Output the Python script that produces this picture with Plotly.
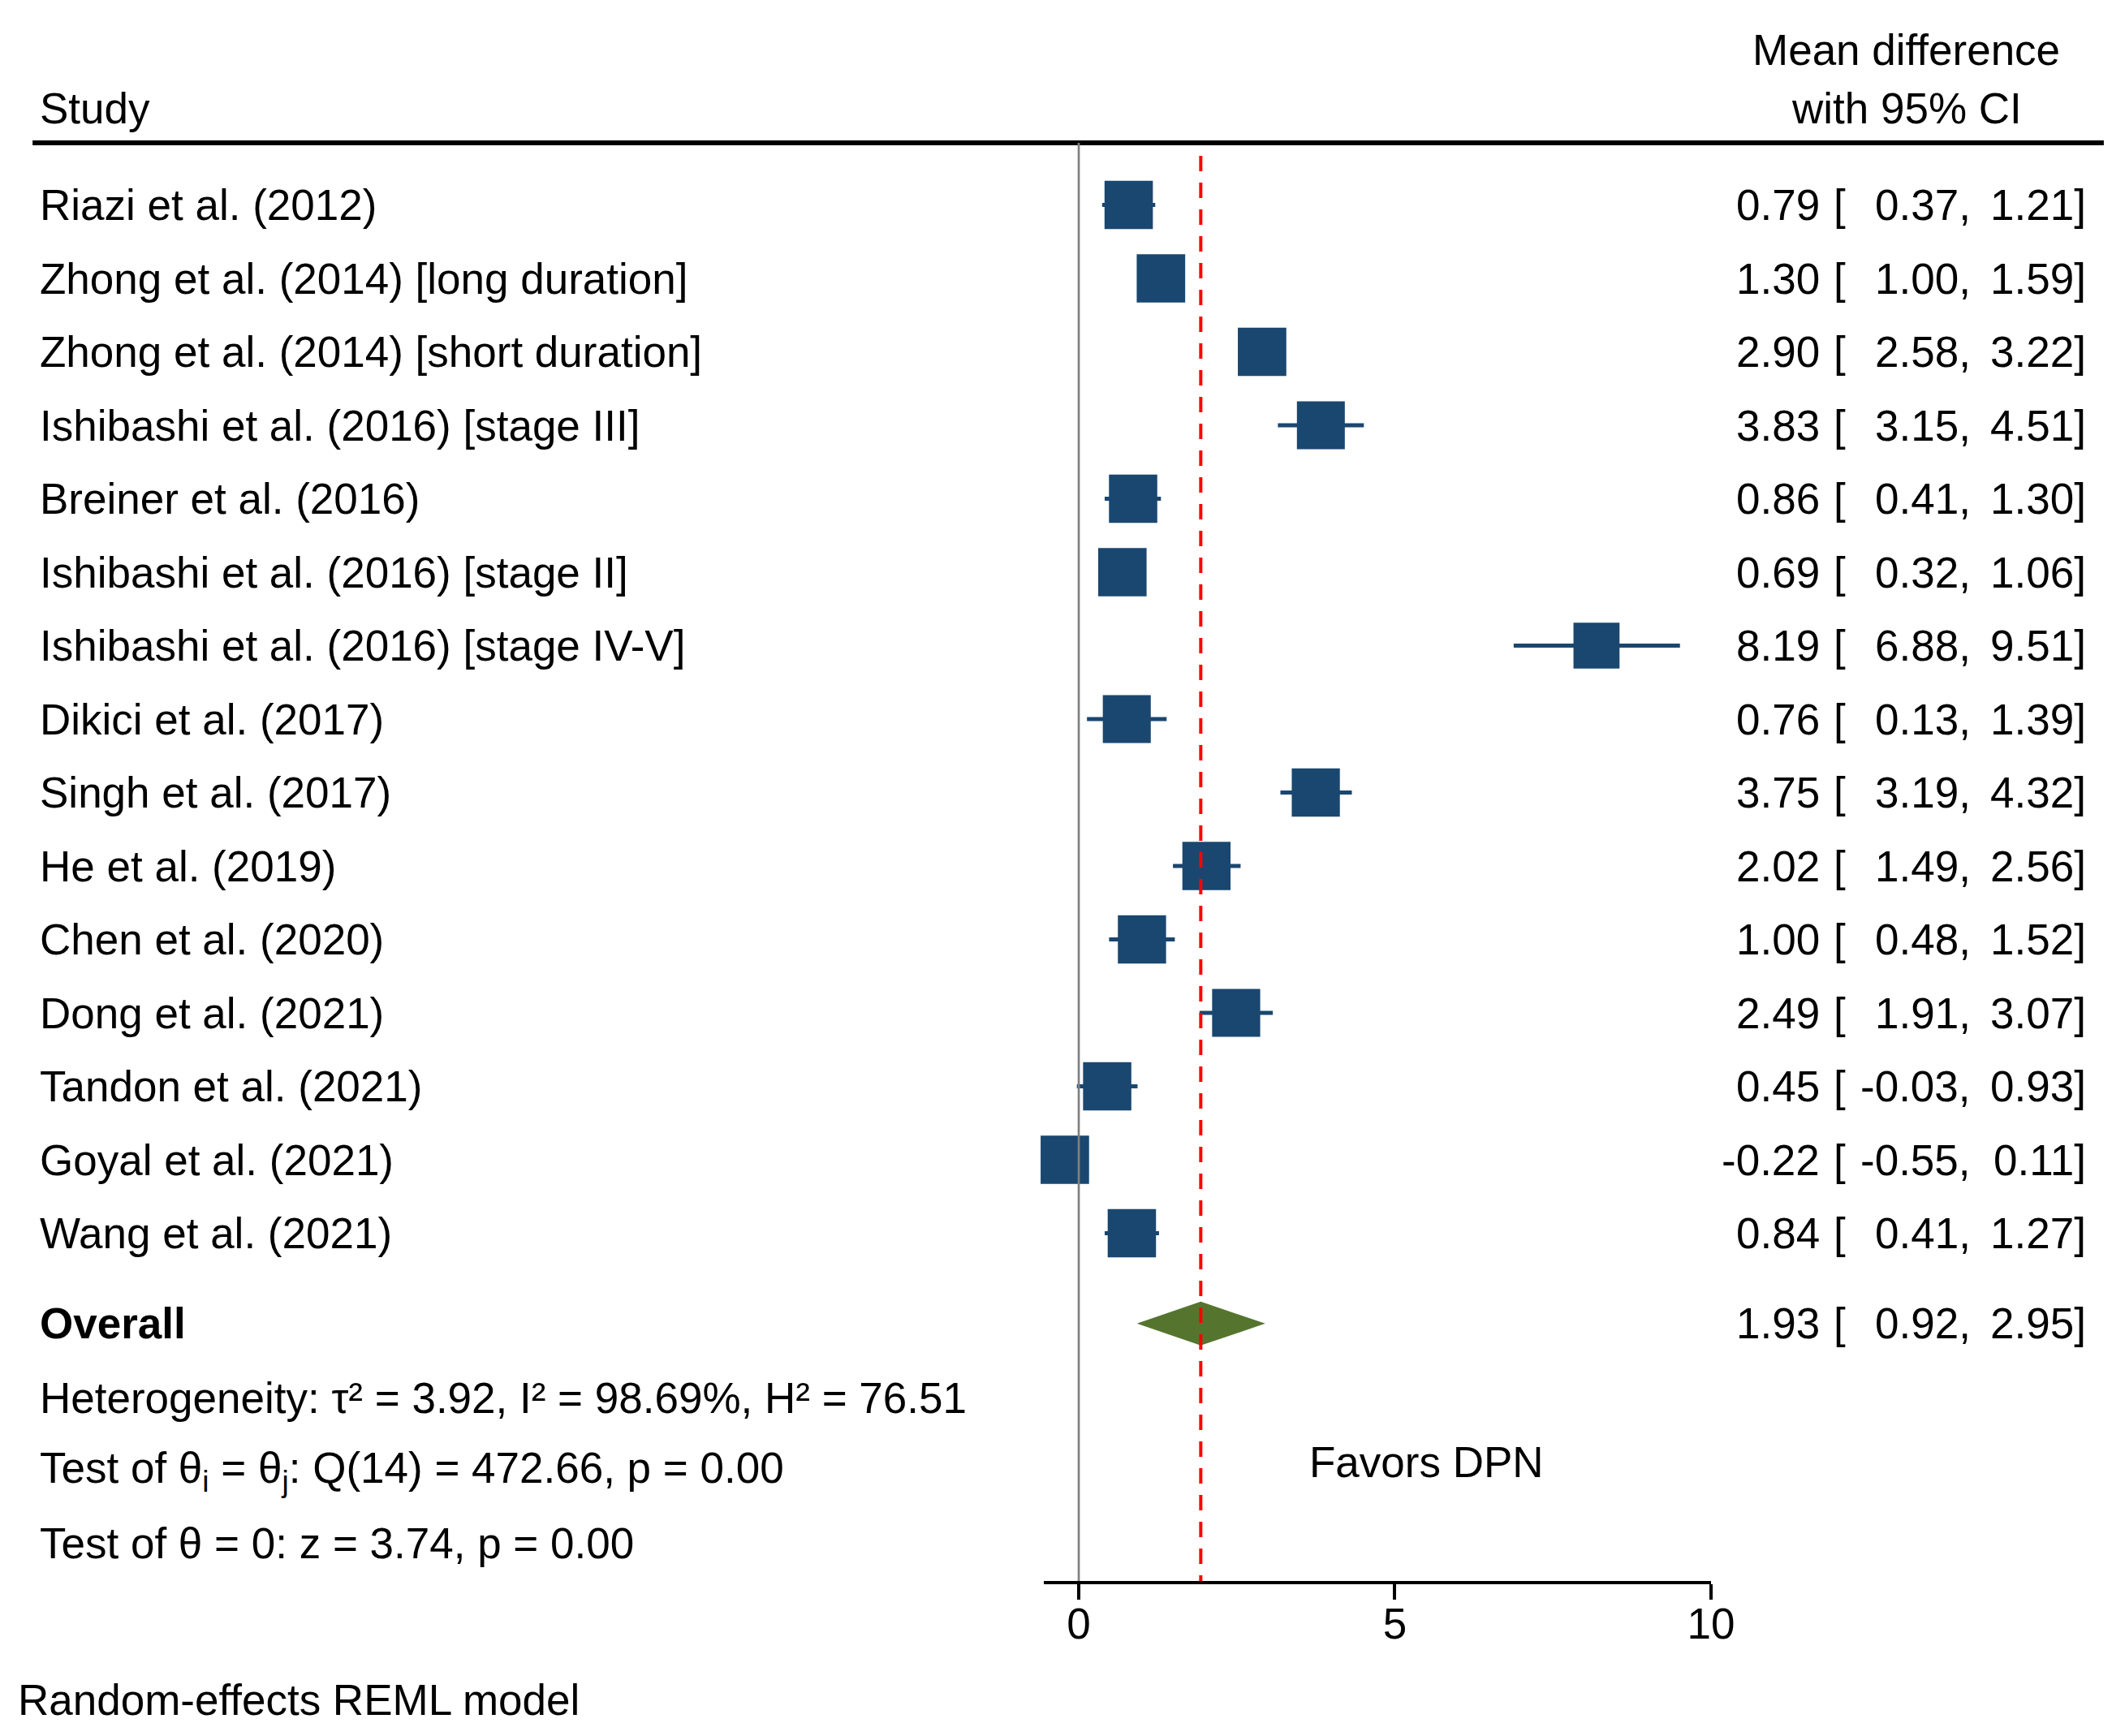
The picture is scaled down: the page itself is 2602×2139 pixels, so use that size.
import numpy as np
import plotly.graph_objects as go

# study rows, top to bottom
studies = [
    "Riazi et al. (2012)",
    "Zhong et al. (2014) [long duration]",
    "Zhong et al. (2014) [short duration]",
    "Ishibashi et al. (2016) [stage III]",
    "Breiner et al. (2016)",
    "Ishibashi et al. (2016) [stage II]",
    "Ishibashi et al. (2016) [stage IV-V]",
    "Dikici et al. (2017)",
    "Singh et al. (2017)",
    "He et al. (2019)",
    "Chen et al. (2020)",
    "Dong et al. (2021)",
    "Tandon et al. (2021)",
    "Goyal et al. (2021)",
    "Wang et al. (2021)",
]
mean_diff = [0.79, 1.30, 2.90, 3.83, 0.86, 0.69, 8.19, 0.76, 3.75, 2.02, 1.00, 2.49, 0.45, -0.22, 0.84]
ci_low = [0.37, 1.00, 2.58, 3.15, 0.41, 0.32, 6.88, 0.13, 3.19, 1.49, 0.48, 1.91, -0.03, -0.55, 0.41]
ci_high = [1.21, 1.59, 3.22, 4.51, 1.30, 1.06, 9.51, 1.39, 4.32, 2.56, 1.52, 3.07, 0.93, 0.11, 1.27]
# approximate random-effects weights (%), read from square sizes
weights = [6.73, 6.77, 6.77, 6.61, 6.72, 6.75, 6.11, 6.63, 6.67, 6.68, 6.69, 6.66, 6.71, 6.76, 6.73]

overall_est = 1.93
overall_low = 0.92
overall_high = 2.95

tau2 = 3.92
i2 = 98.69
h2 = 76.51
q_stat = 472.66
q_df = 14
q_p = 0.00
z_stat = 3.74
z_p = 0.00

tick_vals = [0, 5, 10]
favors_label = "Favors DPN"
favors_at = 5.5

# page geometry. The page body keeps its 8px margin, and the shot of the
# page comes out squeezed sideways (page is ~2634 css px wide), so x
# measures taken off the target picture are stretched back by SX.
PAGE_MARGIN = 8
SX = 2634 / 2602
W = round(2602 * SX) - 2 * PAGE_MARGIN
H = 2120
X0_PX = 1327.5      # where x = 0 sits (picture pixels)
PX_PER_UNIT = 77.8
ROW0_PX = 252.5     # centre of the first study row
ROW_PX = 90.5       # row pitch
AXIS_PX = 1948      # x axis line

FONT = "Liberation Sans, Arial, Helvetica, sans-serif"
FS = 53
NAVY = "#1a476f"
GREEN = "#55752f"


def row_of(px):
    return (px - ROW0_PX) / ROW_PX


def px_x(px):
    return (px * SX - PAGE_MARGIN) / W


def px_y(px):
    return 1 - (px - PAGE_MARGIN) / H


x_range = [min(ci_low), max(tick_vals)]
x_domain = [px_x(X0_PX + x_range[0] * PX_PER_UNIT), px_x(X0_PX + x_range[1] * PX_PER_UNIT)]
row_top = row_of(PAGE_MARGIN)
row_bottom = row_of(AXIS_PX)

rows = list(range(len(studies)))
overall_row = 15.23
stat_rows = [16.24, 17.24, 18.22]
header_row = row_of(176)

est = np.array(mean_diff)
sizes = 59 * SX * np.sqrt(np.array(weights) / max(weights))

fig = go.Figure()

# CI whiskers (drawn first so the squares sit on top)
ci_x, ci_y = [], []
for r, l, h in zip(rows, ci_low, ci_high):
    ci_x += [l, h, None]
    ci_y += [r, r, None]
fig.add_trace(go.Scatter(
    x=ci_x, y=ci_y, mode="lines",
    line=dict(color=NAVY, width=4.8),
    cliponaxis=False, showlegend=False, hoverinfo="skip",
))

# study squares
fig.add_trace(go.Scatter(
    x=est, y=rows, mode="markers",
    marker=dict(symbol="square", size=sizes, color=NAVY, opacity=1, line=dict(width=0)),
    cliponaxis=False, showlegend=False, hoverinfo="skip",
))

# overall diamond
dh = 27 / ROW_PX
fig.add_trace(go.Scatter(
    x=[overall_low, overall_est, overall_high, overall_est, overall_low],
    y=[overall_row, overall_row - dh, overall_row, overall_row + dh, overall_row],
    mode="lines", fill="toself", fillcolor=GREEN, line=dict(width=0, color=GREEN),
    cliponaxis=False, showlegend=False, hoverinfo="skip",
))

shapes = [
    # header rule
    dict(type="line", xref="paper", yref="y", x0=px_x(40), x1=px_x(2589),
         y0=header_row, y1=header_row, line=dict(color="black", width=6)),
    # no-effect line
    dict(type="line", xref="x", yref="y", x0=0, x1=0, y0=header_row, y1=row_bottom,
         line=dict(color="#808080", width=2.7)),
    # overall effect line
    dict(type="line", xref="x", yref="y", x0=overall_est, x1=overall_est,
         y0=row_of(192), y1=row_bottom,
         line=dict(color="#ff0000", width=4, dash="19px,14px")),
]

annotations = []


def label(x, y, text, anchor="left", xref="paper", yref="y", bold=False):
    if bold:
        text = "<b>" + text + "</b>"
    annotations.append(dict(x=x, y=y, xref=xref, yref=yref, text=text, showarrow=False,
                            xanchor=anchor, yanchor="middle",
                            font=dict(family=FONT, size=FS, color="black")))


# headers
label(px_x(47), row_of(133), "Study")
label(px_x(2346), row_of(61), "Mean difference", anchor="center")
label(px_x(2346), row_of(133), "with 95% CI", anchor="center")


def ci_columns(r, e, l, h):
    label(px_x(2241), r, f"{e:.2f}", anchor="right")
    label(px_x(2254), r, "[")
    label(px_x(2427), r, f"{l:.2f},", anchor="right")
    label(px_x(2569), r, f"{h:.2f}]", anchor="right")


for r, name, e, l, h in zip(rows, studies, mean_diff, ci_low, ci_high):
    label(px_x(47), r, name)
    ci_columns(r, e, l, h)

label(px_x(47), overall_row, "Overall", bold=True)
ci_columns(overall_row, overall_est, overall_low, overall_high)

label(px_x(47), stat_rows[0],
      f"Heterogeneity: τ² = {tau2:.2f}, I² = {i2:.2f}%, H² = {h2:.2f}")
label(px_x(47), stat_rows[1],
      f"Test of θ<sub>i</sub> = θ<sub>j</sub>: Q({q_df}) = {q_stat:.2f}, p = {q_p:.2f}")
label(px_x(47), stat_rows[2], f"Test of θ = 0: z = {z_stat:.2f}, p = {z_p:.2f}")

label(favors_at, row_of(1801), favors_label, anchor="center", xref="x")
label(px_x(20), px_y(2094), "Random-effects REML model", yref="paper")

fig.update_layout(
    width=W, height=H,
    margin=dict(l=0, r=0, t=0, b=0),
    paper_bgcolor="white", plot_bgcolor="white",
    font=dict(family=FONT, size=FS, color="black"),
    shapes=shapes, annotations=annotations,
    xaxis=dict(domain=x_domain, range=x_range, showgrid=False, zeroline=False,
               showline=True, linecolor="black", linewidth=4,
               ticks="outside", ticklen=19, tickwidth=4, tickcolor="black",
               tickvals=tick_vals, tickfont=dict(family=FONT, size=FS, color="black"),
               ticklabelstandoff=-16, fixedrange=True),
    yaxis=dict(domain=[px_y(AXIS_PX), 1], range=[row_bottom, row_top],
               showgrid=False, zeroline=False, showline=False, showticklabels=False,
               fixedrange=True),
)

fig.write_html("out.html")
